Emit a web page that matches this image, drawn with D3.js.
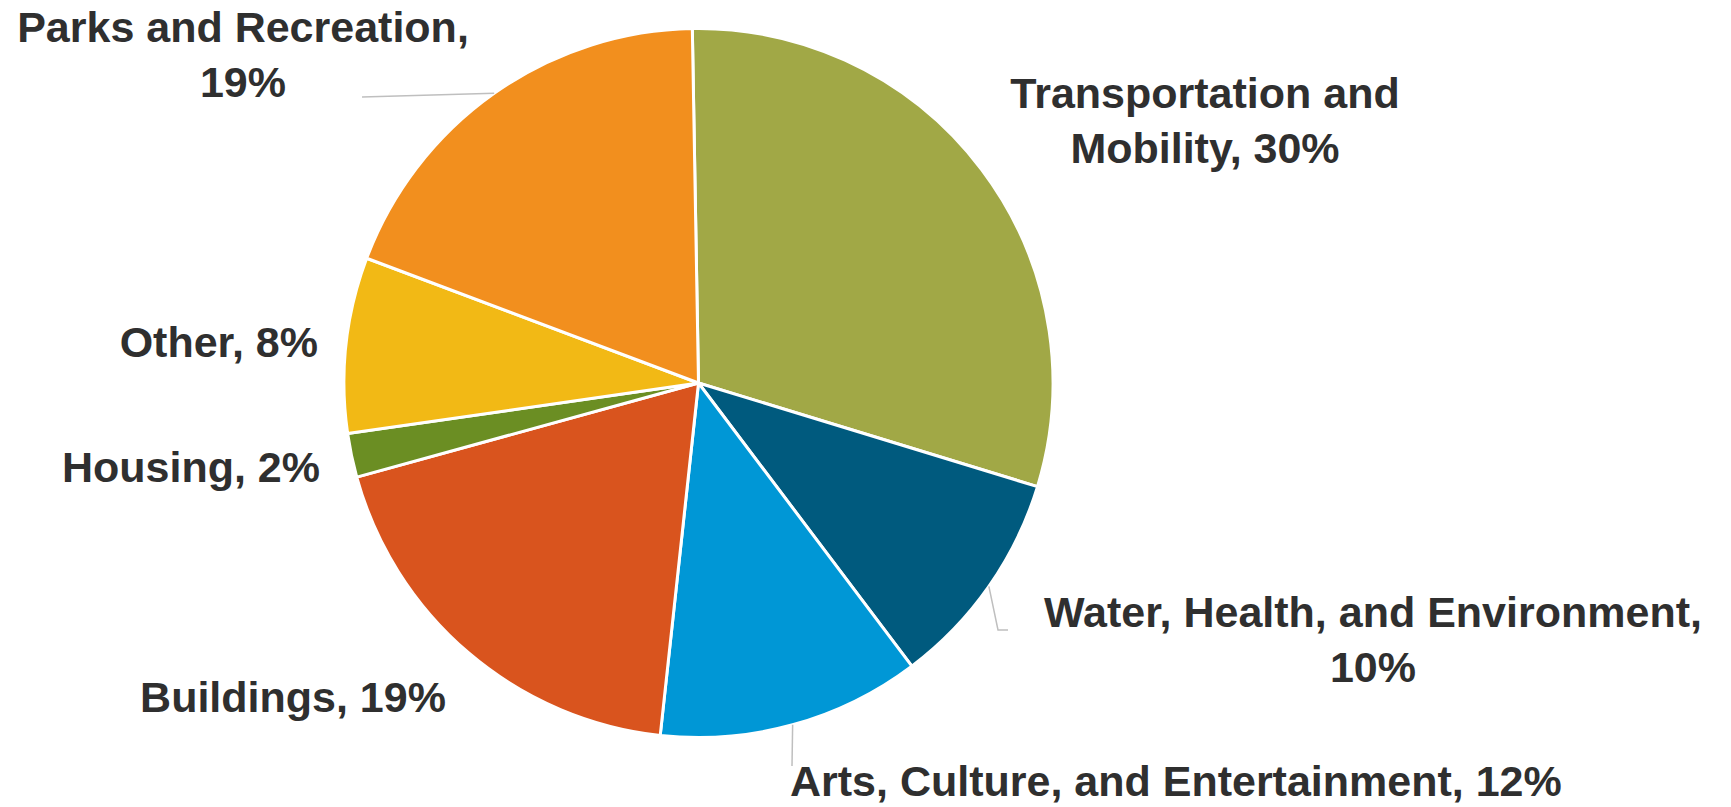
<!DOCTYPE html>
<html>
<head>
<meta charset="utf-8">
<script src="https://cdn.jsdelivr.net/npm/d3@7"></script>
<style>
  body { margin: 0; background: #fff; }
  svg { display: block; }
</style>
</head>
<body>
<svg width="1731" height="807"></svg>
<script>
// data, clockwise from 12 o'clock
var categories = ['Transportation and Mobility', 'Water, Health, and Environment',
    'Arts, Culture, and Entertainment', 'Buildings', 'Housing', 'Other', 'Parks and Recreation'];
var shares = [30, 10, 12, 19, 2, 8, 19];
var colors = ['#A1A846', '#005A7E', '#0097D6', '#D9541E', '#6B8E23', '#F2B915', '#F28F1E'];

// label text, split in lines like the original
var labelLines = [
    ['Transportation and', 'Mobility, 30%'],
    ['Water, Health, and Environment,', '10%'],
    ['Arts, Culture, and Entertainment, 12%'],
    ['Buildings, 19%'],
    ['Housing, 2%'],
    ['Other, 8%'],
    ['Parks and Recreation,', '19%']
];
// label placement (layout only)
var labelPos = [
    {x: 1205, y: 108, anchor: 'middle'},
    {x: 1373, y: 627, anchor: 'middle', leader: [[998, 630], [1008, 630]]},
    {x: 790, y: 796, anchor: 'start', leader: [[792, 766]]},
    {x: 293, y: 712, anchor: 'middle'},
    {x: 320, y: 482, anchor: 'end'},
    {x: 318, y: 357, anchor: 'end'},
    {x: 243, y: 42, anchor: 'middle', leader: [[362, 97]]}
];

var cx = 698.5, cy = 383, radius = 354.5;
var lineGap = 55;

var svg = d3.select('svg');
var g = svg.append('g').attr('transform', 'translate(' + cx + ',' + cy + ')');

var pie = d3.pie()
    .sort(null)
    .startAngle(-1 * Math.PI / 180)
    .endAngle(359 * Math.PI / 180)
    .value(function (d) { return d; });

var arc = d3.arc().innerRadius(0).outerRadius(radius);
var edge = d3.arc().innerRadius(radius).outerRadius(radius);

var slices = pie(shares);

g.selectAll('path.slice')
    .data(slices)
    .enter()
    .append('path')
    .attr('class', 'slice')
    .attr('d', arc)
    .attr('fill', function (d, i) { return colors[i]; })
    .attr('stroke', '#fff')
    .attr('stroke-width', 3)
    .attr('stroke-linejoin', 'round');

// leader lines
slices.forEach(function (d, i) {
    var lp = labelPos[i];
    if (!lp.leader) return;
    var c = edge.centroid(d);
    var pts = [[cx + c[0], cy + c[1]]].concat(lp.leader);
    svg.append('path')
        .attr('d', d3.line()(pts))
        .attr('fill', 'none')
        .attr('stroke', '#BFBFBF')
        .attr('stroke-width', 1.5);
});

// labels
labelLines.forEach(function (lines, i) {
    var lp = labelPos[i];
    lines.forEach(function (line, k) {
        svg.append('text')
            .attr('x', lp.x)
            .attr('y', lp.y + k * lineGap)
            .attr('text-anchor', lp.anchor)
            .attr('font-family', '"Liberation Sans", Arial, sans-serif')
            .attr('font-weight', 'bold')
            .attr('font-size', 43)
            .attr('fill', '#2F2F2F')
            .text(line);
    });
});
</script>
</body>
</html>
